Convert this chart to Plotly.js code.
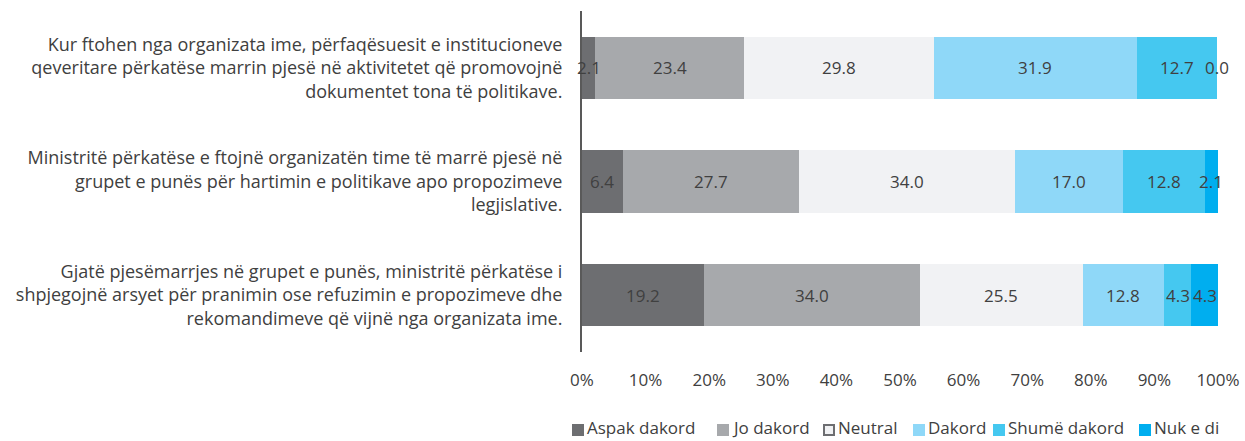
<!DOCTYPE html>
<html>
<head>
<meta charset="utf-8">
<script src="https://cdn.plot.ly/plotly-3.0.1.min.js"></script>
<style>html,body{margin:0;padding:0;background:#fff;}#chart{width:1245px;height:441px;}</style>
</head>
<body>
<div id="chart"></div>
<script>
const categories = [
  "Kur ftohen nga organizata ime, përfaqësuesit e institucioneve<br>qeveritare përkatëse marrin pjesë në aktivitetet që promovojnë<br>dokumentet tona të politikave.",
  "Ministritë përkatëse e ftojnë organizatën time të marrë pjesë në<br>grupet e punës për hartimin e politikave apo propozimeve<br>legjislative.",
  "Gjatë pjesëmarrjes në grupet e punës, ministritë përkatëse i<br>shpjegojnë arsyet për pranimin ose refuzimin e propozimeve dhe<br>rekomandimeve që vijnë nga organizata ime."
];
const seriesNames = ["Aspak dakord", "Jo dakord", "Neutral", "Dakord", "Shumë dakord", "Nuk e di"];
const aspakDakord = [2.1, 6.4, 19.2];
const joDakord = [23.4, 27.7, 34.0];
const neutral = [29.8, 34.0, 25.5];
const dakord = [31.9, 17.0, 12.8];
const shumeDakord = [12.7, 12.8, 4.3];
const nukEDi = [0.0, 2.1, 4.3];
const tickValues = [0, 10, 20, 30, 40, 50, 60, 70, 80, 90, 100];
const tickLabels = ["0%", "10%", "20%", "30%", "40%", "50%", "60%", "70%", "80%", "90%", "100%"];

const colors = ["#6d6e71", "#a7a9ac", "#f1f2f4", "#8fd8f8", "#45c8f0", "#00aeef"];
const seriesValues = [aspakDakord, joDakord, neutral, dakord, shumeDakord, nukEDi];
const FONT = "Open Sans, sans-serif";
const TXT = "#404040";

const W = 1245, H = 441;
const M = {l: 582, r: 27, t: 11, b: 89};
const plotW = W - M.l - M.r, plotH = H - M.t - M.b;

const traces = [];
seriesValues.forEach((vals, i) => {
  traces.push({
    type: "bar", orientation: "h", name: seriesNames[i],
    y: categories, x: vals,
    marker: {color: colors[i], line: {width: 0}},
    showlegend: false, hoverinfo: "x+name"
  });
});

const annotations = [];
const shapes = [];
categories.forEach((cat, c) => {
  let cum = 0;
  seriesValues.forEach((vals) => {
    const v = vals[c];
    annotations.push({
      x: cum + v / 2, y: cat, xref: "x", yref: "y",
      text: v.toFixed(1), showarrow: false,
      font: {family: FONT, size: 17, color: TXT}
    });
    cum += v;
  });
});

// legend (drawn in layout space)
const legendLeft = [572, 717, 823, 913, 993, 1139];
const legendY = 430, sq = 12;
const px2x = p => (p - M.l) / plotW;
const py2y = p => (H - M.b - p) / plotH;
seriesNames.forEach((name, i) => {
  const x0 = legendLeft[i];
  const isNeutral = i === 2;
  const inset = isNeutral ? 1 : 0;
  shapes.push({
    type: "rect", xref: "paper", yref: "paper",
    x0: px2x(x0 + inset), x1: px2x(x0 + sq - inset),
    y0: py2y(legendY + sq / 2 - inset), y1: py2y(legendY - sq / 2 + inset),
    fillcolor: colors[i],
    line: {width: isNeutral ? 2 : 0, color: "#6d6e71"}
  });
  annotations.push({
    xref: "paper", yref: "paper", x: px2x(x0 + sq + 1), y: py2y(H),
    xanchor: "left", yanchor: "bottom", text: name, showarrow: false,
    font: {family: FONT, size: 17, color: TXT}
  });
});

const layout = {
  width: W, height: H,
  margin: Object.assign({autoexpand: false}, M),
  paper_bgcolor: "#fff", plot_bgcolor: "#fff",
  barmode: "stack", bargap: 0.454,
  font: {family: FONT, size: 16, color: TXT},
  showlegend: false,
  xaxis: {
    range: [0, 100], tickvals: tickValues, ticktext: tickLabels,
    showgrid: false, zeroline: false, showline: false, ticks: "",
    ticklabelstandoff: 16,
    tickfont: {family: FONT, size: 17, color: TXT}
  },
  yaxis: {
    autorange: "reversed", showgrid: false, zeroline: false,
    showline: true, linecolor: "#595959", linewidth: 2,
    ticks: "", ticklabelstandoff: 14,
    tickfont: {family: FONT, size: 18, color: TXT}
  },
  annotations: annotations,
  shapes: shapes
};
Plotly.newPlot("chart", traces, layout, {displayModeBar: false});
</script>
</body>
</html>
